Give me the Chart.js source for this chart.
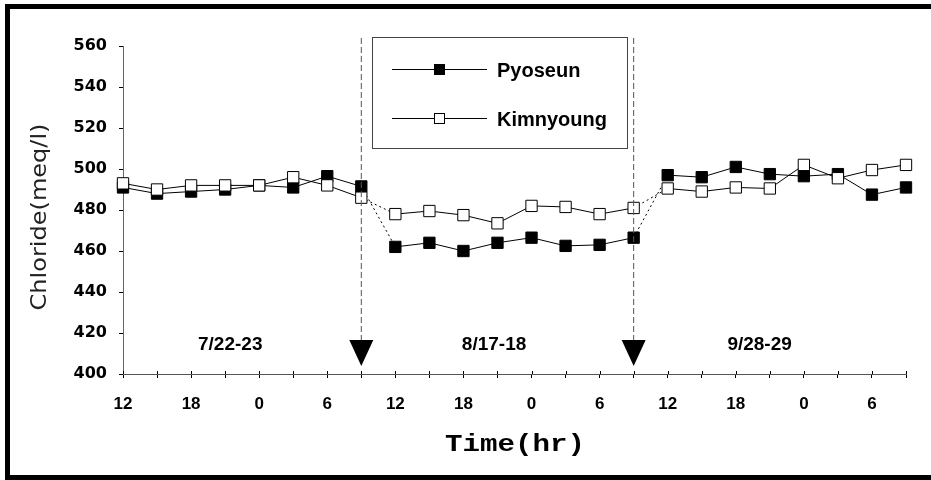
<!DOCTYPE html>
<html>
<head>
<meta charset="utf-8">
<script src="https://cdn.jsdelivr.net/npm/chart.js@4.4.1/dist/chart.umd.min.js"></script>
<style>
  body { margin: 0; background: #fff; }
  #wrap { width: 931px; height: 480px; position: relative; }
</style>
</head>
<body>
<div id="wrap"><canvas id="chart"></canvas></div>
<script>
// sampling hours, 3 visits x 8 samples
const hours = ['12','15','18','21','0','3','6','9',
               '12','15','18','21','0','3','6','9',
               '12','15','18','21','0','3','6','9'];
const pyoseun = [491, 488, 489, 490, 492, 491, 496.5, 491.5,
                 462, 464, 460, 464, 466.5, 462.5, 463, 466.5,
                 497, 496, 501, 497.5, 496.5, 497.5, 487.5, 491];
const kimnyoung = [493, 490, 492, 492, 492, 496, 492, 486,
                   478, 479.5, 477.5, 473.5, 482, 481.5, 478, 481,
                   490.5, 489, 491, 490.5, 502, 495.5, 499.5, 502];
const periods = ['7/22-23', '8/17-18', '9/28-29'];
const yMin = 400, yMax = 560, yStep = 20;

// white page + black frame
const framePlugin = {
    id: 'frame',
    beforeDraw(chart) {
        const c = chart.ctx;
        c.save();
        c.fillStyle = '#fff';
        c.fillRect(0, 0, chart.width, chart.height);
        c.fillStyle = '#000';
        c.fillRect(5, 4, chart.width - 5, 5);
        c.fillRect(5, 4, 5, chart.height - 4);
        c.fillRect(5, 475, chart.width - 5, 5);
        c.restore();
    }
};

// arrows, period labels, legend, axis titles
const extras = {
    id: 'extras',
    afterDatasetsDraw(chart) {
        const c = chart.ctx;
        const x = chart.scales.x;
        const area = chart.chartArea;
        c.save();

        // small tick marks above the x axis line
        c.strokeStyle = '#000';
        c.lineWidth = 1;
        for (let i = 0; i < hours.length; i++) {
            const px = Math.round(x.getPixelForValue(i)) + 0.5;
            c.beginPath();
            c.moveTo(px, area.bottom - 3);
            c.lineTo(px, area.bottom);
            c.stroke();
        }

        // visit arrows at the last sample of each period
        [7, 15].forEach(i => {
            const px = x.getPixelForValue(i);
            c.strokeStyle = '#555';
            c.setLineDash([6, 3]);
            c.beginPath();
            c.moveTo(px, 38);
            c.lineTo(px, 341);
            c.stroke();
            c.setLineDash([]);
            c.fillStyle = '#000';
            c.beginPath();
            c.moveTo(px - 12, 340);
            c.lineTo(px + 12, 340);
            c.lineTo(px, 366);
            c.closePath();
            c.fill();
        });

        // period labels
        c.fillStyle = '#000';
        c.font = 'bold 19px "Liberation Sans", Arial, sans-serif';
        c.textAlign = 'center';
        c.textBaseline = 'middle';
        [3.15, 10.9, 18.7].forEach((pos, k) => {
            c.fillText(periods[k], x.getPixelForValue(pos), 345);
        });

        // legend box
        c.fillStyle = '#fff';
        c.fillRect(372, 37, 255, 111);
        c.strokeStyle = '#444';
        c.lineWidth = 1;
        c.strokeRect(372.5, 37.5, 255, 111);
        const rows = [[chart.data.datasets[1], 69], [chart.data.datasets[0], 118]];
        rows.forEach(([ds, ly]) => {
            c.strokeStyle = '#000';
            c.beginPath();
            c.moveTo(392, ly + 0.5);
            c.lineTo(487, ly + 0.5);
            c.stroke();
            c.fillStyle = ds.pointBackgroundColor;
            c.fillRect(434, ly - 5, 10, 10);
            c.strokeRect(434.5, ly - 4.5, 10, 10);
            c.fillStyle = '#000';
            c.font = 'bold 20px "Liberation Sans", Arial, sans-serif';
            c.textAlign = 'left';
            c.textBaseline = 'middle';
            c.fillText(ds.label, 497, ly + 2);
        });

        // y title, thin condensed, fit to 187px
        c.save();
        c.translate(40, 217);
        c.rotate(-Math.PI / 2);
        c.font = '22px "Liberation Sans Narrow", "DejaVu Sans Condensed", sans-serif';
        let w = c.measureText('Chloride(meq/l)').width;
        c.scale(187 / w, 1);
        c.textAlign = 'center';
        c.textBaseline = 'middle';
        c.fillStyle = '#222';
        c.fillText('Chloride(meq/l)', 0, 0);
        c.restore();

        // x title, bold mono, fit to 140px
        c.save();
        c.translate(515, 445);
        c.font = 'bold 23px "Liberation Mono", "Courier New", monospace';
        w = c.measureText('Time(hr)').width;
        c.scale(140 / w, 1);
        c.textAlign = 'center';
        c.textBaseline = 'middle';
        c.fillStyle = '#000';
        c.fillText('Time(hr)', 0, 0);
        c.restore();

        c.restore();
    }
};

// dotted link between visits
const gap = ctx => (ctx.p0DataIndex === 7 || ctx.p0DataIndex === 15) ? [2, 3] : undefined;

new Chart(document.getElementById('chart'), {
    type: 'line',
    data: {
        labels: hours,
        datasets: [{
            label: 'Kimnyoung',
            data: kimnyoung,
            order: 0,
            borderColor: '#000',
            borderWidth: 1,
            pointStyle: 'rect',
            pointRadius: 8,
            pointBorderWidth: 1,
            pointBackgroundColor: '#fff',
            pointBorderColor: '#000',
            segment: { borderDash: gap },
            tension: 0
        }, {
            label: 'Pyoseun',
            data: pyoseun,
            order: 1,
            borderColor: '#000',
            borderWidth: 1,
            pointStyle: 'rect',
            pointRadius: 8,
            pointBorderWidth: 1,
            pointBackgroundColor: '#000',
            pointBorderColor: '#000',
            segment: { borderDash: gap },
            tension: 0
        }]
    },
    options: {
        responsive: true,
        maintainAspectRatio: false,
        animation: false,
        layout: { padding: { left: 0, right: 25, top: 46, bottom: 0 } },
        plugins: {
            legend: { display: false },
            tooltip: { enabled: false }
        },
        scales: {
            x: {
                offset: false,
                afterFit(scale) { scale.height = 106; },
                grid: { drawOnChartArea: false, tickLength: 4, color: '#000' },
                border: { color: '#555', width: 1 },
                ticks: {
                    autoSkip: false,
                    maxRotation: 0,
                    padding: 16,
                    color: '#000',
                    font: { family: '"Liberation Sans", Arial, sans-serif', size: 17, weight: 'bold' },
                    callback: (v, i) => i % 2 === 0 ? hours[i] : ''
                }
            },
            y: {
                min: yMin,
                max: yMax,
                afterFit(scale) { scale.width = 123; },
                grid: { drawOnChartArea: false, tickLength: 4, color: '#000' },
                border: { color: '#666', width: 1, dash: [4, 3] },
                ticks: {
                    stepSize: yStep,
                    padding: 12,
                    color: '#000',
                    font: { family: '"DejaVu Sans", sans-serif', size: 16, weight: 'bold' }
                }
            }
        }
    },
    plugins: [framePlugin, extras]
});
</script>
</body>
</html>
